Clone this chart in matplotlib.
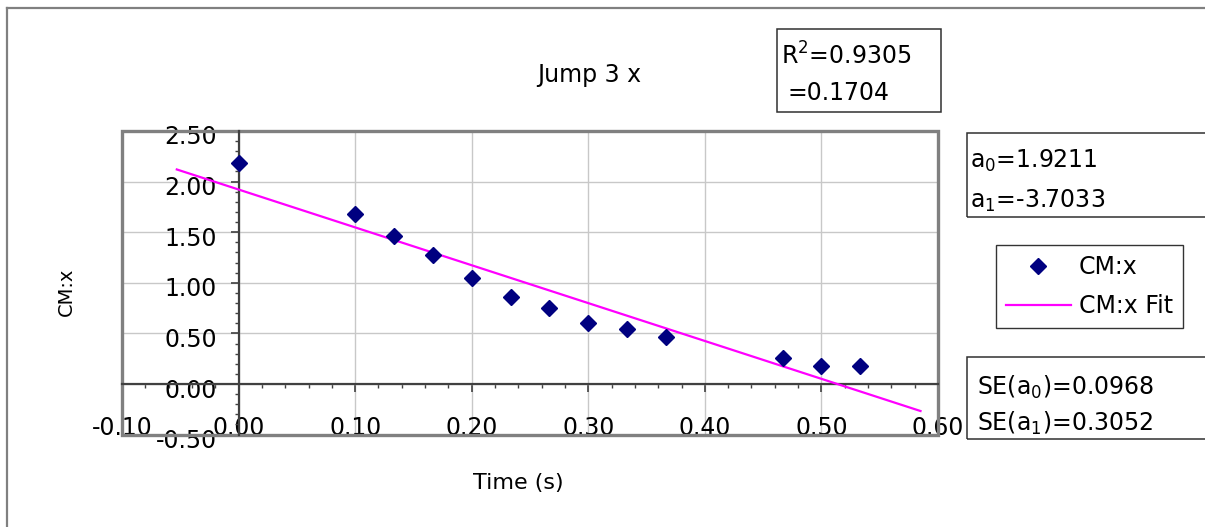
import matplotlib
matplotlib.use("Agg")
import matplotlib.pyplot as plt
from matplotlib.patches import Rectangle
from matplotlib.lines import Line2D
from matplotlib.ticker import MultipleLocator, FormatStrFormatter
from matplotlib.transforms import ScaledTranslation

plt.rcParams['font.family'] = ['DejaVu Sans']
plt.rcParams['axes.unicode_minus'] = False

# ---- data ----
time_s = [0.0, 0.1, 0.1333, 0.1667, 0.2, 0.2333, 0.2667, 0.3, 0.3333, 0.3667, 0.4667, 0.5, 0.5333]
cm_x = [2.18, 1.677, 1.462, 1.278, 1.044, 0.863, 0.754, 0.600, 0.543, 0.467, 0.254, 0.178, 0.178]
fit_x = [-0.053, 0.585]
fit_y = [2.12, -0.267]
title = "Jump 3 x"
x_label = "Time (s)"
y_label = "CM:x"
series_names = ["CM:x", "CM:x Fit"]
stats_r = ["R$^2$=0.9305", "=0.1704"]
stats_a = ["a$_0$=1.9211", "a$_1$=-3.7033"]
stats_se = ["SE(a$_0$)=0.0968", "SE(a$_1$)=0.3052"]

W, H = 1205, 527
fig = plt.figure(figsize=(W / 100, H / 100), dpi=100)
fig.patch.set_facecolor('white')

def fx(x):
    return x / W

def fy(y):
    return 1 - y / H

FS = 17
AX_COL = '#404040'

# outer frame (top and left edges visible)
fig.add_artist(Line2D([fx(7), fx(W)], [fy(7.5), fy(7.5)], color='#808080', lw=1.6))
fig.add_artist(Line2D([fx(7), fx(7)], [fy(7.5), fy(H)], color='#808080', lw=1.6))

ax = fig.add_axes([fx(122), fy(434.6), (938 - 122) / W, (434.6 - 131) / H])
ax.set_xlim(-0.1, 0.6)
ax.set_ylim(-0.5, 2.5)

ax.grid(True, which='major', color='#c8c8c8', lw=1.0, zorder=0)
ax.set_axisbelow(True)

for s in ['top', 'right']:
    ax.spines[s].set_visible(False)
ax.spines['left'].set_position(('data', 0))
ax.spines['bottom'].set_position(('data', 0))
for s in ['left', 'bottom']:
    ax.spines[s].set_color(AX_COL)
    ax.spines[s].set_linewidth(1.6)
    ax.spines[s].set_zorder(2.5)

ax.add_patch(Rectangle((0, 0), 1, 1, transform=ax.transAxes, fill=False,
                       ec='#808080', lw=2.4, clip_on=False, zorder=2))

ax.xaxis.set_major_locator(MultipleLocator(0.1))
ax.xaxis.set_minor_locator(MultipleLocator(0.02))
ax.yaxis.set_major_locator(MultipleLocator(0.5))
ax.yaxis.set_minor_locator(MultipleLocator(0.1))
ax.xaxis.set_major_formatter(FormatStrFormatter('%.2f'))
ax.yaxis.set_major_formatter(FormatStrFormatter('%.2f'))

ax.tick_params(axis='x', which='major', direction='out', length=5.8, width=1.2,
               color=AX_COL, pad=17.0, labelsize=FS, labelcolor='black')
ax.tick_params(axis='x', which='minor', direction='out', length=2.9, width=1.0, color=AX_COL)
ax.tick_params(axis='y', which='major', direction='out', length=5.8, width=1.2,
               color=AX_COL, pad=10.0, labelsize=FS, labelcolor='black')
ax.tick_params(axis='y', which='minor', direction='out', length=2.9, width=1.0, color=AX_COL)

ax.plot(fit_x, fit_y, color='#ff00ff', lw=1.6, zorder=3, label=series_names[1])
ax.plot(time_s, cm_x, linestyle='none', marker='D', ms=8.2, color='#000080',
        mec='#000080', zorder=4, label=series_names[0])

# title and axis labels
fig.text(fx(589), fy(81.7), title, ha='center', va='baseline', fontsize=FS)
fig.text(fx(518), fy(483), x_label, ha='center', va='center', fontsize=16)
fig.text(fx(66.7), fy(292), y_label, ha='center', va='center', rotation=90, fontsize=14)

# legend
h_pts = Line2D([], [], linestyle='none', marker='D', ms=8.2, color='#000080')
h_fit = Line2D([], [], color='#ff00ff', lw=1.6)
leg = ax.legend([h_pts, h_fit], series_names, loc='upper left',
                bbox_to_anchor=(fx(996), fy(245)), bbox_transform=fig.transFigure,
                borderaxespad=0, frameon=True, fancybox=False, fontsize=FS,
                borderpad=0.42, labelspacing=0.63, handlelength=2.75,
                handletextpad=0.34, numpoints=1)
leg.get_frame().set_edgecolor('black')
leg.get_frame().set_linewidth(1.0)

# statistic boxes
def box(x0, y0, x1, y1):
    fig.add_artist(Rectangle((fx(x0), fy(y1)), fx(x1) - fx(x0), fy(y0) - fy(y1),
                             transform=fig.transFigure, fill=False, ec='#303030', lw=1.1))

box(777, 29, 940.5, 111.5)
fig.text(fx(781), fy(65), stats_r[0], ha='left', va='baseline', fontsize=FS)
fig.text(fx(788), fy(100), stats_r[1], ha='left', va='baseline', fontsize=FS)

box(967, 133, 1215, 216.5)
fig.text(fx(970), fy(168), stats_a[0], ha='left', va='baseline', fontsize=FS)
fig.text(fx(970), fy(208), stats_a[1], ha='left', va='baseline', fontsize=FS)

box(967, 356.7, 1215, 439)
fig.text(fx(977), fy(395), stats_se[0], ha='left', va='baseline', fontsize=FS)
fig.text(fx(977), fy(431), stats_se[1], ha='left', va='baseline', fontsize=FS)

# y tick labels sit a few pixels below their ticks in the reference
off = ScaledTranslation(0, -4 / 100, fig.dpi_scale_trans)
for t in ax.yaxis.get_major_ticks():
    t.label1.set_transform(t.label1.get_transform() + off)

fig.savefig('out.png', dpi=100)
